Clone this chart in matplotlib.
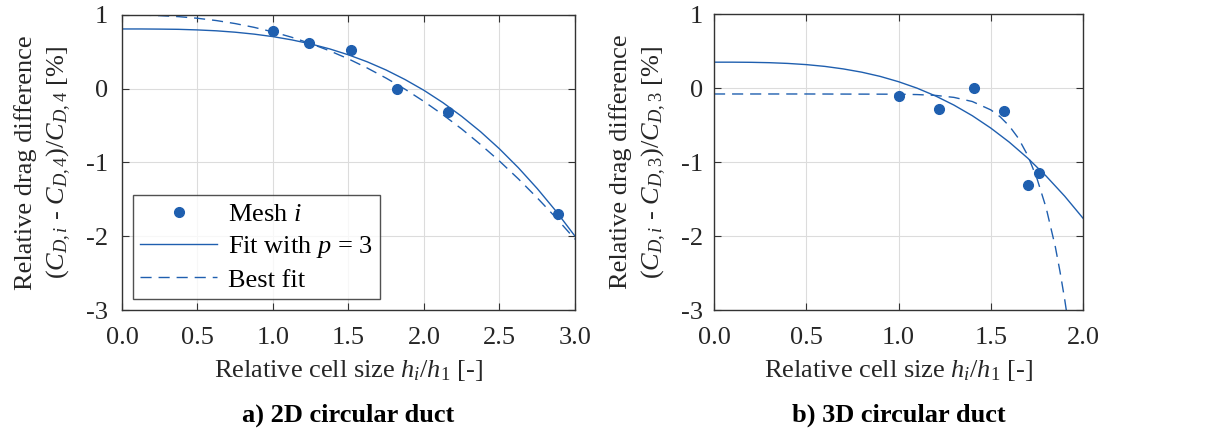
import numpy as np
import matplotlib.pyplot as plt

plt.rcParams['font.family'] = ['Liberation Serif', 'DejaVu Serif']
plt.rcParams['mathtext.fontset'] = 'custom'
plt.rcParams['mathtext.rm'] = 'Liberation Serif'
plt.rcParams['mathtext.it'] = 'Liberation Serif:italic'
plt.rcParams['axes.unicode_minus'] = False

# 2D duct: mesh points and fits
x2d_mesh = [1.00, 1.24, 1.52, 1.82, 2.16, 2.89]
y2d_mesh = [0.78, 0.62, 0.52, 0.00, -0.31, -1.70]
x2d_fit = [0.0, 0.125, 0.25, 0.375, 0.5, 0.625, 0.75, 0.875, 1.0, 1.125, 1.25, 1.375,
           1.5, 1.625, 1.75, 1.875, 2.0, 2.125, 2.25, 2.375, 2.5, 2.625, 2.75, 2.875, 3.0]
y2d_p3 = [0.81, 0.81, 0.808, 0.805, 0.797, 0.785, 0.766, 0.74, 0.706, 0.662, 0.607, 0.54,
          0.459, 0.364, 0.253, 0.124, -0.022, -0.188, -0.375, -0.583, -0.815, -1.071,
          -1.353, -1.661, -1.998]
y2d_best = [1.0, 0.998, 0.991, 0.977, 0.955, 0.924, 0.883, 0.832, 0.77, 0.697, 0.611, 0.514,
            0.404, 0.28, 0.143, -0.007, -0.173, -0.352, -0.546, -0.757, -0.981, -1.222,
            -1.479, -1.751, -2.04]

# 3D duct
x3d_mesh = [1.00, 1.22, 1.41, 1.57, 1.70, 1.76]
y3d_mesh = [-0.11, -0.28, 0.00, -0.31, -1.31, -1.15]
x3d_p3 = [0.0, 0.1, 0.2, 0.3, 0.4, 0.5, 0.6, 0.7, 0.8, 0.9, 1.0,
          1.1, 1.2, 1.3, 1.4, 1.5, 1.6, 1.7, 1.8, 1.9, 2.0]
y3d_p3 = [0.35, 0.35, 0.348, 0.343, 0.333, 0.317, 0.293, 0.259, 0.215, 0.158, 0.086,
          -0.001, -0.106, -0.23, -0.374, -0.541, -0.731, -0.947, -1.19, -1.46, -1.76]
x3d_best = [0.0, 0.5, 1.0, 1.1, 1.2, 1.3, 1.4, 1.5, 1.55, 1.6, 1.65, 1.7, 1.75, 1.8,
            1.85, 1.875, 1.9, 1.92]
y3d_best = [-0.08, -0.08, -0.083, -0.088, -0.099, -0.126, -0.182, -0.295, -0.387, -0.512,
            -0.68, -0.91, -1.22, -1.62, -2.15, -2.48, -2.85, -3.18]

blue = '#1f5faf'
fs = 19

fig = plt.figure(figsize=(12.22, 4.32), dpi=100)
ax1 = fig.add_axes([0.0998, 0.2824, 0.3707, 0.683])
ax2 = fig.add_axes([0.5843, 0.2824, 0.302, 0.685])


def style(ax, xmax, sub, ypad):
    ax.set_ylim(-3, 1)
    ax.set_xlim(0, xmax)
    ax.set_yticks([-3, -2, -1, 0, 1])
    ax.set_yticklabels(['-3', '-2', '-1', '0', '1'])
    xt = np.arange(0, xmax + 0.01, 0.5)
    ax.set_xticks(xt)
    ax.set_xticklabels(['%.1f' % v for v in xt])
    ax.grid(True, color='#dcdcdc', lw=0.8)
    ax.set_axisbelow(True)
    ax.tick_params(direction='in', top=True, right=True, labelsize=fs, length=5,
                   color='#333333', labelcolor='#262626')
    ax.tick_params(axis='x', pad=12)
    ax.tick_params(axis='y', pad=ypad)
    for s in ax.spines.values():
        s.set_color('#333333')
        s.set_linewidth(1.0)
    ax.set_xlabel('Relative cell size $h_i$/$h_1$ [-]', fontsize=fs, color='#262626',
                  labelpad=7)
    ax.set_ylabel('Relative drag difference\n($C_{D,i}$ - $C_{D,%d}$)/$C_{D,%d}$ [%%]' % (sub, sub),
                  fontsize=fs, color='#262626', linespacing=1.4, labelpad=9)


ax1.plot(x2d_mesh, y2d_mesh, 'o', color=blue, ms=7, label='Mesh $i$')
ax1.plot(x2d_fit, y2d_p3, '-', color=blue, lw=1.0, label='Fit with $p$ = 3')
ax1.plot(x2d_fit, y2d_best, '--', color=blue, lw=1.0, dashes=(8, 5), label='Best fit')
style(ax1, 3.0, 4, 10)
leg = ax1.legend(loc='lower left', fontsize=fs, frameon=True, fancybox=False,
                 edgecolor='#262626', borderaxespad=0.4, handlelength=2.9,
                 borderpad=0.3, labelspacing=0.3, handletextpad=0.4)
leg.get_frame().set_linewidth(1.0)

ax2.plot(x3d_mesh, y3d_mesh, 'o', color=blue, ms=7)
ax2.plot(x3d_p3, y3d_p3, '-', color=blue, lw=1.0)
ax2.plot(x3d_best, y3d_best, '--', color=blue, lw=1.0, dashes=(8, 5))
style(ax2, 2.0, 3, 8)

fig.text(0.2852, 0.025, 'a) 2D circular duct', ha='center', fontsize=fs, fontweight='bold')
fig.text(0.7353, 0.025, 'b) 3D circular duct', ha='center', fontsize=fs, fontweight='bold')

fig.savefig('out.png', dpi=100)
